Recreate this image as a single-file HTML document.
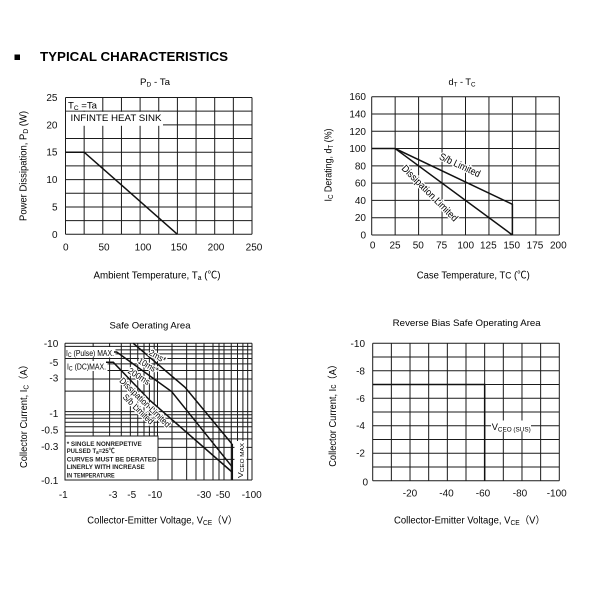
<!DOCTYPE html>
<html><head><meta charset="utf-8"><style>
html,body{margin:0;padding:0;background:#fff;}
svg{display:block;font-family:"Liberation Sans","Noto Sans CJK SC",sans-serif;}
.g line{stroke:#1a1a1a;stroke-width:1;}
.t{font-size:10px;fill:#111;}
.h{stroke:#fff;stroke-width:2.5;paint-order:stroke;stroke-linejoin:round;}
</style></head><body>
<svg width="600" height="600" viewBox="0 0 600 600" xmlns="http://www.w3.org/2000/svg">
<rect width="600" height="600" fill="#fff"/>
<!-- header -->
<rect x="14.5" y="54.5" width="5.5" height="5.5" fill="#000"/>
<text x="40" y="61" font-size="13" font-weight="bold" textLength="188" lengthAdjust="spacingAndGlyphs">TYPICAL CHARACTERISTICS</text>

<!-- ============ CHART 1 ============ -->
<text x="155" y="85" font-size="9.5" text-anchor="middle" textLength="30" lengthAdjust="spacingAndGlyphs">P<tspan font-size="6.5" dy="1.5">D</tspan><tspan dy="-1.5"> - Ta</tspan></text>
<g class="g">
<line x1="65.5" y1="97.5" x2="65.5" y2="234.3"/><line x1="84.15" y1="97.5" x2="84.15" y2="234.3"/><line x1="102.8" y1="97.5" x2="102.8" y2="234.3"/><line x1="121.45" y1="97.5" x2="121.45" y2="234.3"/><line x1="140.1" y1="97.5" x2="140.1" y2="234.3"/><line x1="158.75" y1="97.5" x2="158.75" y2="234.3"/><line x1="177.4" y1="97.5" x2="177.4" y2="234.3"/><line x1="196.05" y1="97.5" x2="196.05" y2="234.3"/><line x1="214.7" y1="97.5" x2="214.7" y2="234.3"/><line x1="233.35" y1="97.5" x2="233.35" y2="234.3"/><line x1="252" y1="97.5" x2="252" y2="234.3"/>
<line x1="65.5" y1="97.5" x2="252" y2="97.5"/><line x1="65.5" y1="111.18" x2="252" y2="111.18"/><line x1="65.5" y1="124.86" x2="252" y2="124.86"/><line x1="65.5" y1="138.54" x2="252" y2="138.54"/><line x1="65.5" y1="152.22" x2="252" y2="152.22"/><line x1="65.5" y1="165.9" x2="252" y2="165.9"/><line x1="65.5" y1="179.58" x2="252" y2="179.58"/><line x1="65.5" y1="193.26" x2="252" y2="193.26"/><line x1="65.5" y1="206.94" x2="252" y2="206.94"/><line x1="65.5" y1="220.62" x2="252" y2="220.62"/><line x1="65.5" y1="234.3" x2="252" y2="234.3"/>
</g>
<rect x="66" y="98" width="34" height="12.6" fill="#fff"/>
<rect x="66" y="111.8" width="97" height="14" fill="#fff"/>
<text x="68" y="108.5" font-size="9.5" textLength="29" lengthAdjust="spacingAndGlyphs">T<tspan font-size="6.5" dy="1.5">C</tspan><tspan dy="-1.5"> =Ta</tspan></text>
<text x="70.5" y="121" font-size="9.5" textLength="91" lengthAdjust="spacingAndGlyphs">INFINTE HEAT SINK</text>
<polyline points="65.5,152.2 84.15,152.2 177.4,234.3" fill="none" stroke="#111" stroke-width="1.5"/>
<g class="t" text-anchor="end">
<text x="57.5" y="101">25</text><text x="57.5" y="128.4">20</text><text x="57.5" y="155.7">15</text><text x="57.5" y="183.1">10</text><text x="57.5" y="210.4">5</text><text x="57.5" y="237.8">0</text>
</g>
<g class="t" text-anchor="middle">
<text x="65.8" y="250.3">0</text><text x="104" y="250.3">50</text><text x="143" y="250.3">100</text><text x="179" y="250.3">150</text><text x="216" y="250.3">200</text><text x="254" y="250.3">250</text>
</g>
<text transform="translate(26.5,166) rotate(-90)" font-size="10" text-anchor="middle" textLength="110" lengthAdjust="spacingAndGlyphs">Power Dissipation, P<tspan font-size="7" dy="1.5">D</tspan><tspan dy="-1.5"> (W)</tspan></text>
<text x="157" y="278.5" font-size="10" text-anchor="middle" textLength="127" lengthAdjust="spacingAndGlyphs">Ambient Temperature, T<tspan font-size="7" dy="1.5">a</tspan><tspan dy="-1.5"> (℃)</tspan></text>

<!-- ============ CHART 2 ============ -->
<text x="462" y="85" font-size="9.5" text-anchor="middle" textLength="27" lengthAdjust="spacingAndGlyphs">d<tspan font-size="6.5" dy="1.5">T</tspan><tspan dy="-1.5"> - T</tspan><tspan font-size="6.5" dy="1.5">C</tspan></text>
<g class="g">
<line x1="371.7" y1="96.7" x2="371.7" y2="235"/><line x1="395.15" y1="96.7" x2="395.15" y2="235"/><line x1="418.6" y1="96.7" x2="418.6" y2="235"/><line x1="442.05" y1="96.7" x2="442.05" y2="235"/><line x1="465.5" y1="96.7" x2="465.5" y2="235"/><line x1="488.95" y1="96.7" x2="488.95" y2="235"/><line x1="512.4" y1="96.7" x2="512.4" y2="235"/><line x1="535.85" y1="96.7" x2="535.85" y2="235"/><line x1="559.3" y1="96.7" x2="559.3" y2="235"/>
<line x1="371.7" y1="96.7" x2="559.3" y2="96.7"/><line x1="371.7" y1="113.99" x2="559.3" y2="113.99"/><line x1="371.7" y1="131.28" x2="559.3" y2="131.28"/><line x1="371.7" y1="148.56" x2="559.3" y2="148.56"/><line x1="371.7" y1="165.85" x2="559.3" y2="165.85"/><line x1="371.7" y1="183.14" x2="559.3" y2="183.14"/><line x1="371.7" y1="200.43" x2="559.3" y2="200.43"/><line x1="371.7" y1="217.71" x2="559.3" y2="217.71"/><line x1="371.7" y1="235" x2="559.3" y2="235"/>
</g>
<polyline points="371.7,148.56 395.15,148.56 512.4,204.3 512.4,235" fill="none" stroke="#111" stroke-width="1.5"/>
<line x1="395.15" y1="148.56" x2="512.4" y2="235" stroke="#111" stroke-width="1.5"/>
<text class="h" transform="translate(460,165) rotate(25)" y="3.5" font-size="10" text-anchor="middle" textLength="44" lengthAdjust="spacingAndGlyphs">S/b Limited</text>
<text class="h" transform="translate(430,193) rotate(45)" y="3.5" font-size="10" text-anchor="middle" textLength="75" lengthAdjust="spacingAndGlyphs">Dissipation Limited</text>
<g class="t" text-anchor="end">
<text x="366" y="100.2">160</text><text x="366" y="117.5">140</text><text x="366" y="134.8">120</text><text x="366" y="152.1">100</text><text x="366" y="169.4">80</text><text x="366" y="186.6">60</text><text x="366" y="203.9">40</text><text x="366" y="221.2">20</text><text x="366" y="238.5">0</text>
</g>
<g class="t" text-anchor="middle">
<text x="372.7" y="248.6">0</text><text x="395" y="248.6">25</text><text x="418.3" y="248.6">50</text><text x="441.7" y="248.6">75</text><text x="465.7" y="248.6">100</text><text x="488.3" y="248.6">125</text><text x="511.7" y="248.6">150</text><text x="535" y="248.6">175</text><text x="558.3" y="248.6">200</text>
</g>
<text transform="translate(331.5,165) rotate(-90)" font-size="10" text-anchor="middle" textLength="73" lengthAdjust="spacingAndGlyphs">I<tspan font-size="7" dy="1.5">C</tspan><tspan dy="-1.5"> Derating, d</tspan><tspan font-size="7" dy="1.5">T</tspan><tspan dy="-1.5"> (%)</tspan></text>
<text x="473.3" y="278.5" font-size="10" text-anchor="middle" textLength="113" lengthAdjust="spacingAndGlyphs">Case Temperature, T<tspan font-size="9">C</tspan> (℃)</text>

<!-- ============ CHART 3 (SOA) ============ -->
<text x="150" y="328.5" font-size="9.5" text-anchor="middle" textLength="81" lengthAdjust="spacingAndGlyphs">Safe Oerating Area</text>
<g class="g">
<line x1="65" y1="343.3" x2="65" y2="480"/><line x1="93.15" y1="343.3" x2="93.15" y2="480"/><line x1="109.6" y1="343.3" x2="109.6" y2="480"/><line x1="121.3" y1="343.3" x2="121.3" y2="480"/><line x1="130.35" y1="343.3" x2="130.35" y2="480"/><line x1="137.75" y1="343.3" x2="137.75" y2="480"/><line x1="144" y1="343.3" x2="144" y2="480"/><line x1="149.4" y1="343.3" x2="149.4" y2="480"/><line x1="154.2" y1="343.3" x2="154.2" y2="480"/><line x1="157.5" y1="343.3" x2="157.5" y2="480"/><line x1="172" y1="343.3" x2="172" y2="480"/><line x1="186.65" y1="343.3" x2="186.65" y2="480"/><line x1="196" y1="343.3" x2="196" y2="480"/><line x1="204" y1="343.3" x2="204" y2="480"/><line x1="213" y1="343.3" x2="213" y2="480"/><line x1="219" y1="343.3" x2="219" y2="480"/><line x1="224" y1="343.3" x2="224" y2="480"/><line x1="231.25" y1="343.3" x2="231.25" y2="480"/><line x1="237.5" y1="343.3" x2="237.5" y2="480"/><line x1="242.9" y1="343.3" x2="242.9" y2="480"/><line x1="247.7" y1="343.3" x2="247.7" y2="480"/><line x1="252" y1="343.3" x2="252" y2="480"/>
<line x1="65" y1="343.3" x2="252" y2="343.3"/><line x1="65" y1="346.43" x2="252" y2="346.43"/><line x1="65" y1="349.93" x2="252" y2="349.93"/><line x1="65" y1="353.9" x2="252" y2="353.9"/><line x1="65" y1="358.46" x2="252" y2="358.46"/><line x1="65" y1="363.87" x2="252" y2="363.87"/><line x1="65" y1="370.5" x2="252" y2="370.5"/><line x1="65" y1="379.04" x2="252" y2="379.04"/><line x1="65" y1="391.08" x2="252" y2="391.08"/><line x1="65" y1="411.65" x2="252" y2="411.65"/><line x1="65" y1="414.78" x2="252" y2="414.78"/><line x1="65" y1="418.27" x2="252" y2="418.27"/><line x1="65" y1="422.24" x2="252" y2="422.24"/><line x1="65" y1="426.81" x2="252" y2="426.81"/><line x1="65" y1="432.22" x2="252" y2="432.22"/><line x1="65" y1="438.85" x2="252" y2="438.85"/><line x1="65" y1="447.39" x2="252" y2="447.39"/><line x1="65" y1="459.43" x2="252" y2="459.43"/><line x1="65" y1="480" x2="252" y2="480"/>
</g>
<!-- note box -->
<rect x="65" y="436" width="93" height="44" fill="#fff" stroke="#1a1a1a" stroke-width="1"/>
<g font-size="6.6" font-weight="bold" fill="#222">
<text x="66.7" y="445.8" textLength="75" lengthAdjust="spacingAndGlyphs">* SINGLE NONREPETIVE</text>
<text x="66.7" y="453.2" textLength="48" lengthAdjust="spacingAndGlyphs">PULSED T<tspan font-size="5" dy="1">a</tspan><tspan dy="-1">=25℃</tspan></text>
<text x="66.7" y="461.5" textLength="90" lengthAdjust="spacingAndGlyphs">CURVES MUST BE DERATED</text>
<text x="66.7" y="469.2" textLength="78" lengthAdjust="spacingAndGlyphs">LINERLY WITH INCREASE</text>
<text x="66.7" y="477.5" textLength="48" lengthAdjust="spacingAndGlyphs">IN TEMPERATURE</text>
</g>
<!-- max labels -->
<rect x="65.5" y="347" width="50" height="10.5" fill="#fff"/>
<rect x="65.5" y="361" width="42" height="10" fill="#fff"/>
<text x="66" y="355.8" font-size="8" textLength="48" lengthAdjust="spacingAndGlyphs">I<tspan font-size="6" dy="1">C</tspan><tspan dy="-1"> (Pulse) MAX.</tspan></text>
<text x="67" y="369.3" font-size="8" textLength="39" lengthAdjust="spacingAndGlyphs">I<tspan font-size="6" dy="1">C</tspan><tspan dy="-1"> (DC)MAX.</tspan></text>
<!-- curves -->
<polyline points="133.3,343.3 185,387.3 232,444" fill="none" stroke="#111" stroke-width="1.5"/>
<polyline points="114,352 116.7,352 171.7,391.7 232,466.7" fill="none" stroke="#111" stroke-width="1.5"/>
<polyline points="106,362.3 113.3,362.3 150,400.5 232,472" fill="none" stroke="#111" stroke-width="1.5"/>
<line x1="232.3" y1="444" x2="232.3" y2="480" stroke="#111" stroke-width="1.5"/>
<!-- rotated labels -->
<g font-size="9">
<text class="h" transform="translate(157.5,356.3) rotate(30)" y="3" text-anchor="middle" textLength="18" lengthAdjust="spacingAndGlyphs">2ms*</text>
<text class="h" transform="translate(148.3,365.5) rotate(30)" y="3" text-anchor="middle" textLength="22" lengthAdjust="spacingAndGlyphs">10ms*</text>
<text class="h" transform="translate(139,376.3) rotate(32)" y="3" text-anchor="middle" textLength="24" lengthAdjust="spacingAndGlyphs">200ms</text>
<text class="h" transform="translate(145,402.5) rotate(44)" y="3" text-anchor="middle" textLength="67" lengthAdjust="spacingAndGlyphs">Dissipation Limited</text>
<text class="h" transform="translate(138.3,409.2) rotate(44)" y="3" text-anchor="middle" textLength="39" lengthAdjust="spacingAndGlyphs">S/b Limited</text>
</g>
<rect x="234.5" y="441" width="12" height="38.5" fill="#fff"/>
<text transform="translate(243,460.5) rotate(-90)" font-size="7.5" text-anchor="middle" textLength="35" lengthAdjust="spacingAndGlyphs">V<tspan font-size="5.5" dy="1">CEO MAX</tspan></text>
<g class="t" text-anchor="end">
<text x="58.3" y="346.8">-10</text><text x="58.3" y="365.8">-5</text><text x="58.3" y="381.5">-3</text><text x="58.3" y="416.8">-1</text><text x="58.3" y="433.5">-0.5</text><text x="58.3" y="450.2">-0.3</text><text x="58.3" y="484.2">-0.1</text>
</g>
<g class="t" text-anchor="middle">
<text x="63.3" y="498">-1</text><text x="113" y="498">-3</text><text x="131.7" y="498">-5</text><text x="155" y="498">-10</text><text x="204" y="498">-30</text><text x="223" y="498">-50</text><text x="251.7" y="498">-100</text>
</g>
<text transform="translate(27,414) rotate(-90)" font-size="10" text-anchor="middle" textLength="108" lengthAdjust="spacingAndGlyphs">Collector Current, I<tspan font-size="7" dy="1.5">C</tspan><tspan dy="-1.5">（A）</tspan></text>
<text x="162.3" y="523.5" font-size="10" text-anchor="middle" textLength="150" lengthAdjust="spacingAndGlyphs">Collector-Emitter Voltage, V<tspan font-size="7" dy="1.5">CE</tspan><tspan dy="-1.5">（V）</tspan></text>

<!-- ============ CHART 4 ============ -->
<text x="466.7" y="326" font-size="9.5" text-anchor="middle" textLength="148" lengthAdjust="spacingAndGlyphs">Reverse Bias Safe Operating Area</text>
<g class="g">
<line x1="372.7" y1="343.3" x2="372.7" y2="480.7"/><line x1="391.36" y1="343.3" x2="391.36" y2="480.7"/><line x1="410.02" y1="343.3" x2="410.02" y2="480.7"/><line x1="428.68" y1="343.3" x2="428.68" y2="480.7"/><line x1="447.34" y1="343.3" x2="447.34" y2="480.7"/><line x1="466" y1="343.3" x2="466" y2="480.7"/><line x1="484.66" y1="343.3" x2="484.66" y2="480.7"/><line x1="503.32" y1="343.3" x2="503.32" y2="480.7"/><line x1="521.98" y1="343.3" x2="521.98" y2="480.7"/><line x1="540.64" y1="343.3" x2="540.64" y2="480.7"/><line x1="559.3" y1="343.3" x2="559.3" y2="480.7"/>
<line x1="372.7" y1="343.3" x2="559.3" y2="343.3"/><line x1="372.7" y1="357.04" x2="559.3" y2="357.04"/><line x1="372.7" y1="370.78" x2="559.3" y2="370.78"/><line x1="372.7" y1="384.52" x2="559.3" y2="384.52"/><line x1="372.7" y1="398.26" x2="559.3" y2="398.26"/><line x1="372.7" y1="412" x2="559.3" y2="412"/><line x1="372.7" y1="425.74" x2="559.3" y2="425.74"/><line x1="372.7" y1="439.48" x2="559.3" y2="439.48"/><line x1="372.7" y1="453.22" x2="559.3" y2="453.22"/><line x1="372.7" y1="466.96" x2="559.3" y2="466.96"/><line x1="372.7" y1="480.7" x2="559.3" y2="480.7"/>
</g>
<polyline points="372.7,384.52 484.66,384.52 484.66,480.7" fill="none" stroke="#111" stroke-width="1.5"/>
<rect x="491" y="420.5" width="40" height="11.5" fill="#fff"/>
<text x="491.7" y="429.8" font-size="9.5" textLength="39" lengthAdjust="spacingAndGlyphs">V<tspan font-size="6.5" dy="1.5">CEO (SUS)</tspan></text>
<g class="t" text-anchor="end">
<text x="365" y="346.8">-10</text><text x="365" y="374.3">-8</text><text x="365" y="401.8">-6</text><text x="365" y="429.2">-4</text><text x="365" y="456.7">-2</text><text x="368" y="485.5">0</text>
</g>
<g class="t" text-anchor="middle">
<text x="410" y="496.5">-20</text><text x="446.5" y="496.5">-40</text><text x="483" y="496.5">-60</text><text x="520" y="496.5">-80</text><text x="556.7" y="496.5">-100</text>
</g>
<text transform="translate(336,413.3) rotate(-90)" font-size="10" text-anchor="middle" textLength="107" lengthAdjust="spacingAndGlyphs">Collector Current, I<tspan font-size="9">c</tspan>（A）</text>
<text x="469.5" y="523.5" font-size="10" text-anchor="middle" textLength="151" lengthAdjust="spacingAndGlyphs">Collector-Emitter Voltage, V<tspan font-size="7" dy="1.5">CE</tspan><tspan dy="-1.5">（V）</tspan></text>
</svg>
</body></html>
